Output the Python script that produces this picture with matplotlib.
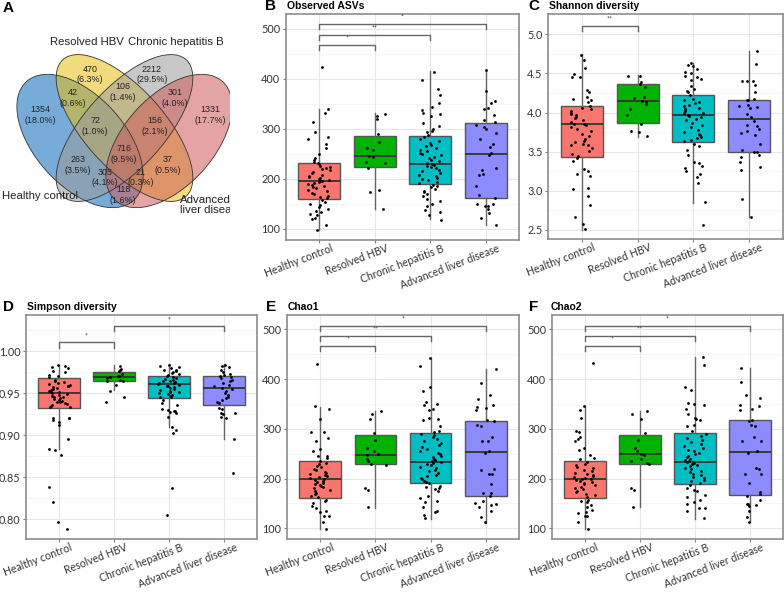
import numpy as np
import matplotlib
matplotlib.use("Agg")
import matplotlib.pyplot as plt
import matplotlib.transforms as mtransforms
from matplotlib.patches import Ellipse

# ---------------- DATA ----------------
groups = ["Healthy control", "Resolved HBV", "Chronic hepatitis B", "Advanced liver disease"]
group_colors = ["#F8766D", "#00B300", "#00BFC4", "#8C8CFF"]

# Venn diagram (panel A)
venn_sets = ["Healthy control", "Resolved HBV", "Chronic hepatitis B", "Advanced liver disease"]
venn_counts = [470, 2212, 42, 106, 301, 1354, 1331, 72, 156, 716, 263, 37, 305, 21, 118]
venn_pcts = ["6.3%", "29.5%", "0.6%", "1.4%", "4.0%", "18.0%", "17.7%", "1.0%", "2.1%",
             "9.5%", "3.5%", "0.5%", "4.1%", "0.3%", "1.6%"]

# Observed ASVs (panel B)
obs_hc = [424, 339, 332, 313, 293, 284, 280, 269, 261, 249, 242, 237, 234, 232,
          229, 226, 224, 222, 220, 217, 214, 211, 208, 206, 204, 202, 200, 198, 196, 195,
          194, 192, 190, 188, 186, 184, 181, 178, 175, 172, 169, 166, 163, 161,
          157, 154, 150, 147, 143, 140, 136, 133, 130, 128, 122, 120, 108, 97]
obs_rhbv = [330, 325, 320, 289, 273, 262, 258, 246, 244, 234, 231, 222, 177, 174, 140]
obs_chb = [414, 397, 379, 367, 351, 344, 337, 331, 329, 325, 311, 306, 299, 296, 293, 287,
           283, 279, 276, 272, 268, 265, 262, 258, 255, 252, 250, 247, 244, 241, 238, 235,
           232, 230, 228, 226, 224, 221, 218, 215, 212, 208, 205, 202, 200, 197, 194, 192,
           188, 186, 183, 180, 176, 173, 170, 165, 160, 155, 150, 146, 138, 133, 127, 118]
obs_ald = [418, 376, 356, 351, 342, 339, 328, 317, 314, 307, 303, 300, 291, 280, 269, 263,
           251, 247, 221, 218, 209, 207, 186, 168, 161, 150, 149, 146, 145, 139, 131, 121, 107]
# box stats: (whisker low, q1, median, q3, whisker high)
obs_box = [(97, 160, 195, 231, 339), (140, 223, 245, 285, 331),
           (119, 190, 230, 285, 415), (107, 161, 249, 311, 418)]

# Shannon diversity (panel C)
sha_hc = [4.74, 4.67, 4.57, 4.49, 4.46, 4.45, 4.29, 4.26, 4.20, 4.17, 4.16, 4.14, 4.08,
          4.06, 4.04, 4.02, 4.00, 3.98, 3.97, 3.95, 3.93, 3.90, 3.88, 3.86, 3.85, 3.84, 3.82,
          3.79, 3.76, 3.73, 3.70, 3.66, 3.64, 3.62, 3.60, 3.59, 3.58, 3.55, 3.51, 3.47, 3.44,
          3.42, 3.38, 3.28, 3.25, 3.22, 3.19, 3.04, 3.03, 2.94, 2.82, 2.66, 2.58, 2.51]
sha_rhbv = [4.47, 4.47, 4.39, 4.37, 4.33, 4.20, 4.19, 4.15, 4.13, 4.11, 4.05, 3.97, 3.86,
            3.76, 3.75, 3.70]
sha_chb = [4.63, 4.61, 4.60, 4.56, 4.52, 4.50, 4.47, 4.46, 4.43, 4.42, 4.34, 4.30, 4.28,
           4.26, 4.22, 4.18, 4.16, 4.14, 4.12, 4.10, 4.08, 4.06, 4.05, 4.04, 4.02, 4.00, 3.99,
           3.97, 3.96, 3.94, 3.92, 3.90, 3.87, 3.84, 3.81, 3.78, 3.75, 3.73, 3.71, 3.69, 3.67,
           3.65, 3.64, 3.60, 3.57, 3.52, 3.46, 3.37, 3.36, 3.32, 3.29, 3.26, 3.22, 3.18, 3.10,
           2.86, 2.56]
sha_ald = [4.79, 4.62, 4.41, 4.41, 4.40, 4.35, 4.26, 4.17, 4.16, 4.16, 4.10, 4.08, 4.07,
           4.06, 3.98, 3.94, 3.89, 3.84, 3.83, 3.79, 3.77, 3.74, 3.71, 3.60, 3.52, 3.50, 3.50,
           3.46, 3.43, 3.37, 3.31, 3.27, 2.90, 2.67]
sha_box = [(2.50, 3.43, 3.85, 4.08, 4.75), (3.69, 3.87, 4.15, 4.36, 4.48),
           (2.85, 3.63, 3.97, 4.22, 4.63), (2.67, 3.50, 3.92, 4.16, 4.79)]

# Simpson diversity (panel D)
sim_hc = [0.983, 0.982, 0.981, 0.980, 0.976, 0.975, 0.972, 0.970, 0.969, 0.966, 0.964,
          0.963, 0.962, 0.961, 0.960, 0.959, 0.958, 0.957, 0.956, 0.955, 0.954, 0.953, 0.952,
          0.951, 0.950, 0.949, 0.948, 0.947, 0.946, 0.945, 0.944, 0.943, 0.942, 0.941, 0.940,
          0.939, 0.938, 0.937, 0.936, 0.935, 0.934, 0.933,
          0.921, 0.920, 0.920, 0.918, 0.916, 0.912, 0.896, 0.884, 0.882, 0.877, 0.839, 0.821,
          0.797, 0.788]
sim_rhbv = [0.982, 0.979, 0.978, 0.976, 0.973, 0.971, 0.970, 0.969, 0.968, 0.966, 0.965,
            0.964, 0.960, 0.953, 0.945, 0.940]
sim_chb = [0.984, 0.982, 0.981, 0.980, 0.978, 0.977, 0.976, 0.975, 0.974, 0.973, 0.972,
           0.971, 0.969, 0.968, 0.967, 0.966, 0.965, 0.964, 0.963, 0.962, 0.962, 0.961, 0.960,
           0.959, 0.958, 0.957, 0.956, 0.955, 0.954, 0.953, 0.952, 0.951, 0.950, 0.949, 0.948,
           0.947, 0.946, 0.945, 0.942, 0.938, 0.936, 0.931, 0.930, 0.929, 0.929, 0.928, 0.926,
           0.922, 0.910, 0.906, 0.903, 0.837, 0.805]
sim_ald = [0.984, 0.982, 0.981, 0.977, 0.975, 0.973, 0.972, 0.971, 0.969, 0.968, 0.966,
           0.964, 0.962, 0.960, 0.958, 0.956, 0.955, 0.953, 0.950, 0.948, 0.946, 0.944, 0.942,
           0.940, 0.938, 0.932, 0.931, 0.927, 0.926, 0.925, 0.922, 0.920, 0.896, 0.855]
sim_box = [(0.884, 0.932, 0.950, 0.968, 0.983), (0.954, 0.964, 0.9695, 0.975, 0.983),
           (0.910, 0.9445, 0.9615, 0.970, 0.9845), (0.8955, 0.9365, 0.956, 0.970, 0.9845)]

# Chao1 (panel E)
ch1_hc = [430, 345, 340, 320, 294, 293, 282, 275, 260, 255, 246, 245, 241, 236,
          232, 229, 226, 223, 220, 217, 214, 211, 209, 207, 205, 203, 201, 199, 198, 196,
          194, 192, 190, 188, 186, 183, 180, 177, 174, 171, 168, 165, 162,
          157, 155, 150, 145, 140, 135, 133, 125, 124, 112, 98]
ch1_rhbv = [336, 330, 320, 292, 277, 262, 255, 250, 247, 240, 236, 230, 228, 181, 176, 142]
ch1_chb = [443, 426, 383, 376, 353, 349, 347, 340, 338, 322, 320, 317, 306, 296, 293, 290,
           287, 283, 279, 275, 271, 267, 263, 259, 255, 252, 249, 246, 243, 240, 237, 235,
           233, 231, 229, 227, 224, 221, 218, 215, 212, 208, 205, 202, 199, 196, 193, 191,
           186, 183, 180, 178, 175, 165, 160, 155, 152, 143, 135, 133, 127, 120]
ch1_ald = [421, 393, 368, 360, 347, 343, 341, 337, 318, 316, 307, 305, 283, 275, 275, 255,
           252, 220, 218, 210, 210, 190, 170, 170, 165, 155, 150, 148, 147, 143, 134, 123, 112]
ch1_box = [(98, 160, 199, 235, 343), (141, 229, 248, 288, 335),
           (118, 190.5, 233, 291, 442), (110, 164, 253, 316, 421)]

# Chao2 (panel F)
ch2_hc = [432, 345, 337, 321, 296, 293, 283, 280, 275, 262, 257, 247, 242, 240,
          233, 230, 227, 224, 221, 218, 215, 212, 210, 208, 206, 204, 202, 200, 199, 197,
          195, 193, 191, 189, 187, 184, 181, 178, 175, 172, 169, 166, 163,
          157, 155, 152, 147, 143, 136, 133, 130, 125, 125, 113, 98]
ch2_rhbv = [336, 330, 320, 292, 277, 262, 255, 250, 247, 240, 236, 232, 229, 180, 176, 142]
ch2_chb = [445, 428, 383, 377, 352, 350, 348, 340, 330, 322, 320, 318, 308, 305, 295,
           290, 286, 282, 278, 274, 270, 266, 262, 258, 255, 252, 249, 246, 243, 240, 237,
           235, 234, 232, 230, 228, 225, 222, 219, 216, 213, 210, 207, 204, 201, 198, 195,
           192, 187, 180, 177, 175, 167, 162, 157, 153, 148, 140, 140, 134, 120]
ch2_ald = [422, 395, 368, 362, 347, 345, 340, 338, 318, 315, 308, 306, 283, 276, 276, 255,
           252, 222, 219, 210, 210, 192, 172, 168, 165, 157, 149, 148, 147, 145, 135, 123, 113]
ch2_box = [(98, 160, 200, 235, 345), (143, 229, 249, 288, 335),
           (119.5, 190, 234, 292, 444), (112, 166, 254, 317, 422)]

# significance brackets: (group i, group j, bracket height, label)
obs_sig = [(0, 1, 467, "*"), (0, 2, 487, "**"), (0, 3, 509, "*")]
sha_sig = [(0, 1, 5.11, "**")]
sim_sig = [(0, 1, 1.0103, "*"), (1, 3, 1.0297, "*")]
ch1_sig = [(0, 1, 466, "*"), (0, 2, 486.5, "**"), (0, 3, 506.6, "*")]
ch2_sig = [(0, 1, 466, "*"), (0, 2, 486.5, "**"), (0, 3, 506.6, "*")]

# ---------------- FIGURE ----------------
W, H = 784, 592
fig = plt.figure(figsize=(W / 100, H / 100), dpi=100)
plt.rcParams["font.family"] = ["Lato", "DejaVu Sans"]

def px_axes(l, t, r, b):
    return fig.add_axes([l / W, 1 - b / H, (r - l) / W, (b - t) / H])

# ---- Panel A: Venn ----
axv = px_axes(0, 0, 230, 290)
axv.set_xlim(0, 230)
axv.set_ylim(290, 0)
axv.axis("off")
ell_specs = [  # (cx, cy, a, b, angle, color)
    (80, 141, 80, 45, 48, "#0868B8"),
    (124.5, 128, 92, 40, 48, "#E8BE12"),
    (124.5, 128, 92, 40, -48, "#9B9B9B"),
    (169, 141, 80, 45, -48, "#CF5A5A"),
]
for cx, cy, a, b, ang, col in ell_specs:
    axv.add_patch(Ellipse((cx, cy), 2 * a, 2 * b, angle=ang, facecolor=col,
                          alpha=0.55, edgecolor="none"))
for cx, cy, a, b, ang, col in ell_specs:
    axv.add_patch(Ellipse((cx, cy), 2 * a, 2 * b, angle=ang, facecolor="none",
                          edgecolor="#333333", lw=0.6))
venn_pos = [(90, 74.5), (152, 74.5), (72.5, 98), (123, 92), (175, 98), (40, 115),
            (210, 115), (95, 126), (155, 126), (124, 154), (78, 165), (168, 165),
            (105, 177.5), (141, 177.5), (123, 195)]
for (x, y), n, p in zip(venn_pos, venn_counts, venn_pcts):
    axv.text(x, y, f"{n}\n({p})", ha="center", va="center", fontsize=6.4,
             family="Liberation Sans", color="#222222", linespacing=1.25)
lab_kw = dict(fontsize=8.2, family="Liberation Sans", color="#222222")
axv.text(87, 42, venn_sets[1], ha="center", va="center", **lab_kw)
axv.text(176, 42, venn_sets[2], ha="center", va="center", **lab_kw)
axv.text(2, 196, venn_sets[0], ha="left", va="center", **lab_kw)
axv.text(180, 205, "Advanced\nliver disease", ha="left", va="center",
         linespacing=1.05, clip_on=True, **lab_kw)
fig.text(8 / W, 1 - 8 / H, "A", fontsize=11, fontweight="bold",
         family="Liberation Sans", va="center", ha="center")

# ---- box panels ----
rng = np.random.default_rng(7)  # horizontal jitter only
label_shift = mtransforms.ScaledTranslation(11 / 100, -3 / 100, fig.dpi_scale_trans)

def box_panel(rect, series, stats, ylim, yticks, ytfmt, minor, sigs, tip, lab_off,
              letter, title, letter_x, title_x, title_y):
    ax = px_axes(*rect)
    ax.set_xlim(0.4, 4.6)
    ax.set_ylim(*ylim)
    ax.set_facecolor("white")
    for yv in minor:
        ax.axhline(yv, color="#F2F2F2", lw=0.5, zorder=0)
    for yv in yticks:
        ax.axhline(yv, color="#E6E6E6", lw=0.8, zorder=0)
    for xv in range(1, 5):
        ax.axvline(xv, color="#E6E6E6", lw=0.8, zorder=0)
    bstats = []
    for (lo, q1, med, q3, hi) in stats:
        bstats.append(dict(whislo=lo, q1=q1, med=med, q3=q3, whishi=hi, fliers=[]))
    bp = ax.bxp(bstats, positions=[1, 2, 3, 4], widths=0.75, patch_artist=True,
                showfliers=False, showcaps=False,
                boxprops=dict(edgecolor="#555555", lw=1.0),
                whiskerprops=dict(color="#666666", lw=1.0),
                medianprops=dict(color="#333333", lw=1.3))
    for patch, c in zip(bp["boxes"], group_colors):
        patch.set_facecolor(c)
        patch.set_zorder(2)
    for k, vals in enumerate(series):
        xs = k + 1 + rng.uniform(-0.2, 0.2, len(vals))
        ax.scatter(xs, vals, s=4, color="black", zorder=4, linewidths=0)
    for (i, j, h, lab) in sigs:
        ax.plot([i + 1, i + 1, j + 1, j + 1], [h - tip, h, h, h - tip],
                color="#666666", lw=1.0, zorder=3, clip_on=False)
        ax.text((i + j) / 2 + 1, h + lab_off, lab, ha="center", va="center",
                fontsize=5, color="#333333")
    ax.set_yticks(yticks)
    ax.set_yticklabels([ytfmt.format(v) for v in yticks])
    ax.set_xticks([1, 2, 3, 4])
    ax.set_xticklabels([])
    xt = ax.get_xaxis_transform() + label_shift
    for k, g in enumerate(groups):
        ax.text(k + 1, 0, g, transform=xt, rotation=21, rotation_mode="anchor",
                ha="right", va="top", fontsize=7.6, color="#333333")
    ax.tick_params(axis="both", labelsize=7.8, colors="#7F7F7F", labelcolor="#333333",
                   length=2.5, width=0.8, pad=1.5)
    for sp in ax.spines.values():
        sp.set_color("#8C8C8C")
        sp.set_linewidth(1.2)
    fig.text(letter_x / W, 1 - title_y / H, letter, fontsize=11, fontweight="bold",
             family="Liberation Sans", va="center", ha="center")
    fig.text(title_x / W, 1 - title_y / H, title, fontsize=7.5, fontweight="bold",
             family="Liberation Sans", va="center", ha="left")
    return ax

box_panel((286, 14, 519, 240), [obs_hc, obs_rhbv, obs_chb, obs_ald], obs_box,
          (77, 529), [100, 200, 300, 400, 500], "{:.0f}", [150, 250, 350, 450],
          obs_sig, 10, 14, "B", "Observed ASVs", 271, 287, 6)
box_panel((548, 14, 783, 239), [sha_hc, sha_rhbv, sha_chb, sha_ald], sha_box,
          (2.385, 5.26), [2.5, 3.0, 3.5, 4.0, 4.5, 5.0], "{:.1f}",
          [2.75, 3.25, 3.75, 4.25, 4.75], sha_sig, 0.07, 0.085, "C", "Shannon diversity",
          534, 549, 6)
box_panel((26, 315, 257, 539), [sim_hc, sim_rhbv, sim_chb, sim_ald], sim_box,
          (0.7766, 1.043), [0.80, 0.85, 0.90, 0.95, 1.00], "{:.2f}",
          [0.825, 0.875, 0.925, 0.975, 1.025], sim_sig, 0.006, 0.0075, "D",
          "Simpson diversity", 9, 27, 307)
box_panel((287, 315, 519, 539), [ch1_hc, ch1_rhbv, ch1_chb, ch1_ald], ch1_box,
          (78.5, 528.7), [100, 200, 300, 400, 500], "{:.0f}", [150, 250, 350, 450],
          ch1_sig, 10, 14, "E", "Chao1", 271, 288, 307)
box_panel((552, 315, 783, 539), [ch2_hc, ch2_rhbv, ch2_chb, ch2_ald], ch2_box,
          (78.5, 528.7), [100, 200, 300, 400, 500], "{:.0f}", [150, 250, 350, 450],
          ch2_sig, 10, 14, "F", "Chao2", 534, 551, 307)

fig.savefig("out.png", dpi=100)
